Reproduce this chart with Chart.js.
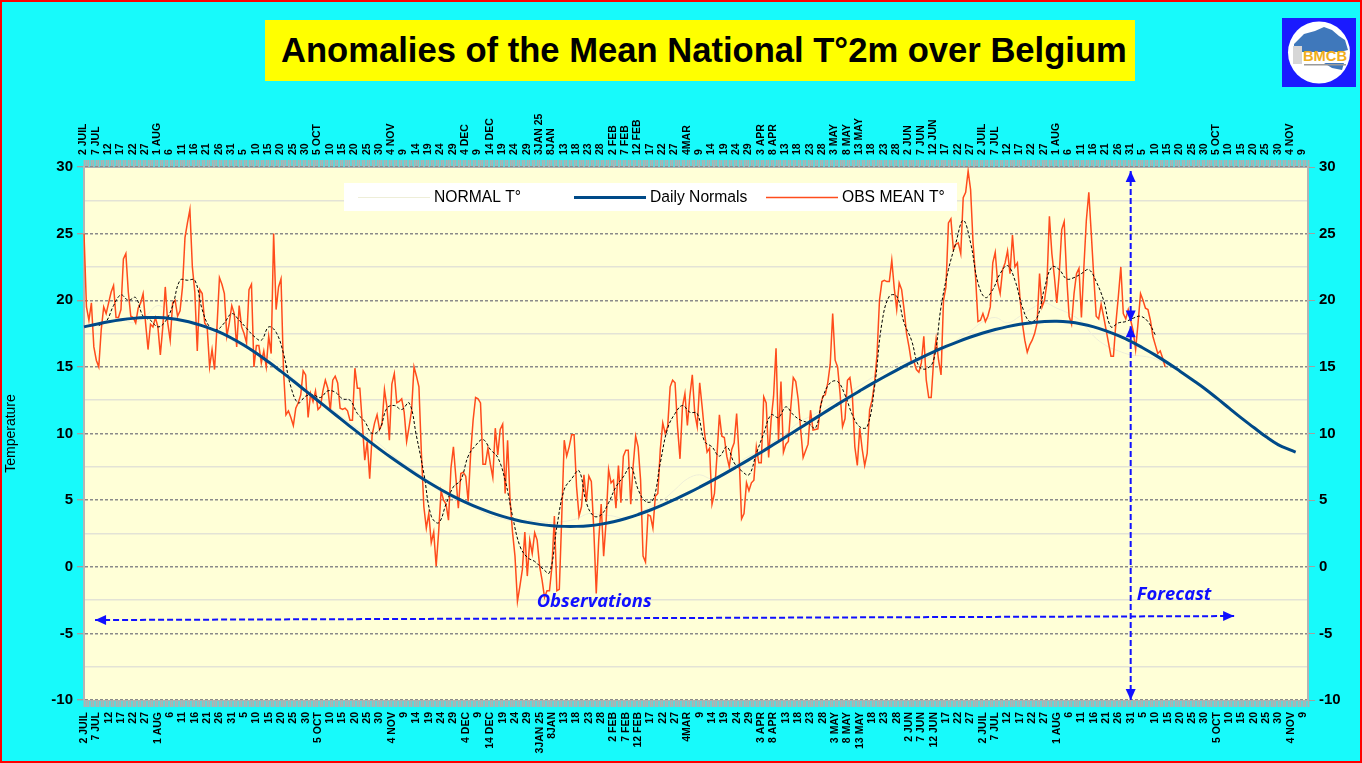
<!DOCTYPE html>
<html>
<head>
<meta charset="utf-8">
<script src="https://cdn.jsdelivr.net/npm/chart.js@4/dist/chart.umd.js"></script>
<style>
html,body{margin:0;padding:0;background:#17fafb;width:1362px;height:763px;overflow:hidden;font-family:"Liberation Sans",Arial,sans-serif}
#wrap{position:relative;width:1362px;height:763px}
#frame{position:absolute;left:0;top:0;width:1362px;height:763px;box-sizing:border-box;border:2px solid #ff0000;pointer-events:none}
#title{position:absolute;left:265px;top:20px;width:870px;height:61px;background:#ffff00;color:#000;font-weight:bold;font-size:34.6px;line-height:61px;padding-left:16px;box-sizing:border-box;white-space:nowrap}
#logo{position:absolute;left:1282px;top:18px;width:74px;height:69px}
canvas{position:absolute;left:0;top:0}
</style>
</head>
<body>
<div id="wrap">
<canvas id="c" width="1362" height="763"></canvas>
<div id="title">Anomalies of the Mean National T°2m over Belgium</div>
<svg id="logo" viewBox="0 0 74 69" xmlns="http://www.w3.org/2000/svg">
<rect width="74" height="69" fill="#1a1aff"/>
<circle cx="37" cy="34.5" r="31" fill="#fff"/>
<path d="M12 26 L22 16 L33 13 L42 9 L50 12 L57 18 L63 22 L66 32 L58 34 L12 34 Z" fill="#3f78bb"/>
<path d="M42 45 L62 45 L60 52 L50 50 Z" fill="#3f78bb"/>
<rect x="11" y="28" width="9" height="18" fill="#d6d6d6"/>
<text x="21" y="43" font-family="Liberation Sans" font-weight="bold" font-size="15.5" textLength="44" lengthAdjust="spacingAndGlyphs" fill="#f0ae1c">BMCB</text>
<rect x="22" y="46" width="42" height="1.5" fill="#9a9a9a"/>
</svg>
<div id="frame"></div>
</div>
<script>
// Tick labels, one every 5 days from 2 JUIL
const tickLabels = ["2 JUIL","7 JUL","12","17","22","27","1 AUG","6","11","16","21","26","31","5","10","15","20","25","30","5 OCT","10","15","20","25","30","4 NOV","9","14","19","24","29","4 DEC","9","14 DEC","19","24","29","3JAN 25","8JAN","13","18","23","28","2 FEB","7 FEB","12 FEB","17","22","27","4MAR","9","14","19","24","29","3 APR","8 APR","13","18","23","28","3 MAY","8 MAY","13 MAY","18","23","28","2 JUN","7 JUN","12 JUN","17","22","27","2 JUIL","7 JUL","12","17","22","27","1 AUG","6","11","16","21","26","31","5","10","15","20","25","30","5 OCT","10","15","20","25","30","4 NOV","9"];
const dayCount = 498;
const labelEvery = 5;
const forecastDay = 425;

// OBS MEAN T° : one reading per day
const obsMean = [25,19.5,18.5,19.8,16.5,15.5,15,17.8,19.5,19,19.8,20.6,21.1,18.7,18.7,19.3,23.1,23.5,20.6,18.8,18.7,18.3,19.4,19.8,20.5,18.3,16.3,18.2,18,18.7,18,15.9,18,21,18.3,17,19.8,20,18.8,19.2,21,24.7,25.8,26.8,22.5,20.6,16.2,20.8,20.5,18.3,18,15,16.3,14.8,18,21.7,21.2,20.5,17.3,18.3,19.6,19,16.5,19.6,18,17.5,16.8,20.8,21.2,15,16.6,16.6,15.3,16.2,15,17.3,16,25,19.3,21,21.6,14.8,11.4,11.7,11.2,10.6,11.9,12.3,12.9,14.7,14.4,11.2,13,12.4,13.2,11.8,12,13.2,14,13.4,11.7,14,14.3,13.8,11.9,11.8,11.9,11.7,11,11,14.9,13.4,13.4,10.8,8,9.4,6.6,9.9,10.8,11.4,10.3,10.7,13.3,12,9.5,13.7,14.5,12.3,12.4,12.6,11.6,9.4,10.5,11.7,15,14.3,13.5,8.5,4.5,2.9,4,1.8,2.6,0.05,2.6,5.7,5,4.7,3.5,7.4,9,6.7,4.4,7,7.1,6.8,4.9,8.5,11,12.7,12.6,12.3,7.7,7.7,8.9,7.7,6.7,10.4,8.4,10.3,10.7,5.5,9.5,5,2.6,0.8,-2.6,-1.45,-0.2,2.6,-0.7,2,1,2.55,2,0.05,-1,-2.3,-1.8,-1.8,0,3.8,-1.8,-1.7,3.8,9.5,8.3,9,9.9,9.9,6,3.8,4.5,6.9,4.9,6.8,6.4,2.8,-2,2,4.7,0.8,3.4,7.3,6.3,6.5,4.4,7.6,4.8,8.3,8.75,8.75,4.7,7.6,9.8,9,6.5,0.8,0.35,3.9,3.8,2.9,5.3,5.5,8.8,10.8,10,10.5,13.5,14,13.8,10.5,8.1,12,13,10.6,12.8,14.4,11.5,10.5,13.8,12,10,8.6,8.9,4.7,5.5,8.3,11.4,9.8,9.7,8.3,7.5,8.8,9.3,11.5,8.3,3.6,4,6.3,5.7,6.3,6.5,9,7.8,7.8,12.75,12.3,8.2,11,12.8,16.4,9.5,13.9,8.6,9.2,9.4,12,14.2,13.9,12.55,10.3,8.2,8.7,9.2,11.75,10.25,10.3,10.35,12,12.8,12.9,13.8,15.2,19,15.5,15,13,10.5,11.1,14,14.2,12.8,9,7.6,10.4,8.8,7.6,8.5,11.8,12.5,13.8,15.9,20,21.4,21.5,21.4,21.4,23,20.9,19.3,21.3,20.8,19.3,17.5,16.5,15.3,15.4,14.8,14.6,15.3,17.3,14,12.7,12.7,15.5,17.1,15.5,14.4,20,21,25.8,26.1,23.8,24.2,24.3,23.5,27.7,28.1,29.7,28.3,24.3,21.8,18.4,18.5,19,18.4,18.8,19.5,22.8,23.6,21.3,20.5,22.3,22.8,23.7,22,24.9,22.5,22.8,20.3,18.3,17,16.1,16.65,17,17.5,18.3,22,19.5,20,21.3,26.3,23.5,21.8,19.8,22,25.3,25.9,21.8,18.8,18.2,20.5,22,22.4,18.7,22.5,26,28.1,25,21.8,18.8,18.6,19.7,18.8,17.8,16.8,15.8,15.8,18.3,20.3,22.5,19,18.6,19.3,18.5,17.7,16.3,18.3,20.5,20,19.4,19.3,18.5,17.3,16.65,16,16.2,15.65,15];

// Black dashed running mean, read every 3 days from day 6
const meanStep = 3;
const meanStart = 6;
const runningMean = [18.1,18.4,19.6,20.4,20,20.2,18.8,18.5,18,18.4,19.6,21.5,21.5,21.5,19.3,18,17.8,18.3,19,18.5,17.9,17.3,17,18,17.6,16,13.5,12.3,12.8,12.9,12.7,13.2,13.1,12.6,12.5,11.5,10.9,10,10.3,11.9,12.1,11.8,12.3,9.8,7,3.8,3.3,4.7,6,6.5,8.3,9.1,9.55,8.8,8.2,6.5,3.8,1.55,0.7,0.4,-0.1,-0.45,3,5.8,6.6,7.2,4.8,3.8,3.9,4.8,6,6.75,7.5,5.8,4.9,5,7.8,10.4,11.5,12.1,11.6,11.5,9.4,9,8.3,9,7.8,7.2,6.9,8.5,10,11.4,11.2,12,11.4,11,10.8,10.4,12.7,13.8,13.9,12.9,11.4,10.5,10.5,13.5,18.3,20.3,20.3,18.3,17,15.05,14.85,15.5,19.5,22.3,24.3,26,24.3,21.3,20.2,20.8,22,22.6,21.5,19.5,18.4,18.7,20.9,22.5,22.3,21.6,21.7,22,22.3,21.4,20,18,18.3,18.4,18.65,18.8,18.4,17.4];

// Daily Normals, read every 5 days, plus the last day of the line
const normalStep = 5;
const dailyNormals = [18,18.2,18.38,18.53,18.64,18.7,18.7,18.63,18.48,18.26,17.97,17.6,17.15,16.62,16.02,15.36,14.66,13.94,13.2,12.46,11.72,10.98,10.25,9.53,8.83,8.16,7.52,6.9,6.32,5.78,5.28,4.83,4.43,4.08,3.78,3.53,3.33,3.18,3.08,3.03,3.03,3.08,3.2,3.38,3.62,3.92,4.26,4.64,5.06,5.5,5.97,6.46,6.97,7.5,8.04,8.6,9.17,9.75,10.33,10.92,11.5,12.08,12.65,13.2,13.74,14.26,14.76,15.24,15.7,16.13,16.53,16.9,17.24,17.54,17.8,18.02,18.2,18.32,18.4,18.42,18.36,18.22,18,17.7,17.34,16.92,16.42,15.88,15.3,14.68,14.04,13.38,12.65,11.9,11.15,10.45,9.75,9.15,8.75];
const lastNormalDay = 492;
const lastNormal = 8.6;

// NORMAL T° (the pale line), read every 5 days
const normalT = [18,18.2,18.4,18.6,18.3,18.8,19.6,19,18.5,18.3,18,17.7,17,16.5,16.1,15.7,15,14.1,13.3,12.5,11.9,11.2,10.5,9.9,9.2,8.4,7.7,7.1,6.3,5.6,5.1,4.8,4.3,3.8,3.6,3.4,3.5,3.4,3.3,3.4,3.6,4,3.9,3.8,3.6,4,4.5,5,5.8,6.6,6.9,6.6,7,7.7,8.3,8.7,9.4,10,10.8,11.3,11.8,12.4,13,13.6,14.2,14.7,15.2,15.4,15.5,15.9,16.4,17.1,17.7,18.4,18.7,18.3,18.8,19.4,19.8,19.4,19,18.4,17.3,16.6,16.2,15.9,15.8,15.6,15.1];

// Y axis
const yMin = -10, yMax = 30, yStep = 2.5, yLabelStep = 5;

// Annotation anchors, in axis units
const arrowObsStart = -4.0, arrowFcstEnd = -3.7;
const splitTopValue = 18.4, splitBottomValue = 18.05;

const dayIndex = Array.from({length: dayCount}, (_, i) => i);
const atStep = (arr, start, step) => arr.map((v, i) => ({x: start + i * step, y: v}));

const BLUE = '#1010ff';
function arrowHead(ctx, x, y, ang, len, half) {
  ctx.save();
  ctx.translate(x, y); ctx.rotate(ang);
  ctx.beginPath(); ctx.moveTo(0, 0); ctx.lineTo(-len, half); ctx.lineTo(-len, -half); ctx.closePath();
  ctx.fillStyle = BLUE; ctx.fill();
  ctx.restore();
}
function dashedArrow(ctx, x1, y1, x2, y2) {
  const ang = Math.atan2(y2 - y1, x2 - x1);
  ctx.save();
  ctx.strokeStyle = BLUE; ctx.lineWidth = 2; ctx.setLineDash([6, 3]);
  ctx.beginPath(); ctx.moveTo(x1, y1); ctx.lineTo(x2, y2); ctx.stroke();
  ctx.restore();
  arrowHead(ctx, x2, y2, ang, 11, 5);
  arrowHead(ctx, x1, y1, ang + Math.PI, 11, 5);
}

const overlay = {
  id: 'overlay',
  beforeDraw(chart) {
    const a = chart.chartArea, ctx = chart.ctx;
    ctx.save(); ctx.fillStyle = '#ffffd7';
    ctx.fillRect(a.left, a.top, a.right - a.left, a.bottom - a.top);
    ctx.restore();
  },
  afterDatasetsDraw(chart) {
    const ctx = chart.ctx, X = chart.scales.x, Y = chart.scales.y;
    // legend
    ctx.save();
    ctx.fillStyle = '#ffffff'; ctx.fillRect(344, 183, 613, 28);
    const starts = [358, 574, 766];
    ['NORMAL T°', 'Daily Normals', 'OBS MEAN T°'].forEach((name, i) => {
      const ds = chart.data.datasets.find(d => d.label === name);
      ctx.strokeStyle = ds.borderColor; ctx.lineWidth = ds.borderWidth;
      ctx.beginPath(); ctx.moveTo(starts[i], 197.5); ctx.lineTo(starts[i] + 72, 197.5); ctx.stroke();
      ctx.fillStyle = '#000'; ctx.font = '15.65px "Liberation Sans"';
      ctx.textBaseline = 'middle'; ctx.textAlign = 'left';
      ctx.fillText(name, starts[i] + 76, 198);
    });
    ctx.restore();
    // forecast markers
    const fx = X.getPixelForValue(forecastDay);
    dashedArrow(ctx, fx, Y.getPixelForValue(29.7), fx, Y.getPixelForValue(splitTopValue));
    dashedArrow(ctx, fx, Y.getPixelForValue(yMin), fx, Y.getPixelForValue(splitBottomValue));
    dashedArrow(ctx, X.getPixelForValue(4.5), Y.getPixelForValue(arrowObsStart), X.getPixelForValue(467), Y.getPixelForValue(arrowFcstEnd));
    ctx.save();
    ctx.fillStyle = BLUE; ctx.font = 'italic bold 18.4px "Open Sans"';
    ctx.textBaseline = 'middle'; ctx.textAlign = 'left';
    ctx.fillText('Observations', X.getPixelForValue(183.8), Y.getPixelForValue(-2.6));
    ctx.fillText('Forecast', X.getPixelForValue(427.5), Y.getPixelForValue(-2.1));
    ctx.restore();
  }
};

const labelFont = {family: '"Liberation Sans"', size: 10.5, weight: 'bold'};
const labelFor = (v, i) => (i % labelEvery === 0 && tickLabels[i / labelEvery] !== undefined) ? tickLabels[i / labelEvery] : '';
const xTicks = {autoSkip: false, maxRotation: 90, minRotation: 90, padding: 5, color: '#000', font: labelFont, callback: labelFor};
const xTicksTop = {autoSkip: false, maxRotation: 90, minRotation: 90, padding: 5, labelOffset: 12, color: '#000', font: labelFont, callback: labelFor};
const xGrid = {drawOnChartArea: false, drawTicks: true, tickLength: 7, tickColor: '#b0b0b0', tickWidth: 2};
const isMajor = c => c.tick && (c.tick.value % yLabelStep === 0);
const yTicks = {
  stepSize: yStep, padding: 4, color: '#000', autoSkip: false, maxTicksLimit: 100,
  font: {family: '"Liberation Sans"', size: 15, weight: 'bold'},
  callback: v => v % yLabelStep === 0 ? String(v) : ''
};

new Chart(document.getElementById('c'), {
  type: 'line',
  plugins: [overlay],
  data: {
    labels: dayIndex,
    datasets: [
      {label: 'NORMAL T°', data: atStep(normalT, 0, normalStep), borderColor: '#eeeed8', borderWidth: 1, tension: 0.4, pointRadius: 0, order: 4},
      {label: 'Daily Normals', data: [...atStep(dailyNormals, 0, normalStep), {x: lastNormalDay, y: lastNormal}], borderColor: '#004a88', borderWidth: 3, tension: 0.4, pointRadius: 0, order: 1},
      {label: 'OBS MEAN T°', data: atStep(obsMean, 0, 1), borderColor: '#ff4c1c', borderWidth: 1.5, tension: 0, pointRadius: 0, order: 3},
      {label: 'Running mean', data: atStep(runningMean, meanStart, meanStep), borderColor: '#000000', borderWidth: 1, borderDash: [3, 2], tension: 0.4, pointRadius: 0, order: 2}
    ]
  },
  options: {
    responsive: false, animation: false, devicePixelRatio: 1,
    layout: {padding: 0},
    plugins: {legend: {display: false}, title: {display: false}, tooltip: {enabled: false}},
    events: [],
    scales: {
      x: {type: 'category', position: 'bottom', offset: false, ticks: xTicks, grid: xGrid, border: {color: '#b0b0b0', width: 1},
          afterFit: s => { s.height = 63; }},
      x2: {type: 'category', position: 'top', labels: dayIndex, offset: false, ticks: xTicksTop, grid: xGrid, border: {color: '#b0b0b0', width: 1},
          afterFit: s => { s.height = 167; }},
      y: {position: 'left', min: yMin, max: yMax, ticks: yTicks,
          title: {display: true, text: 'Temperature', color: '#000', font: {family: '"Liberation Sans"', size: 14}, padding: {top: 3, bottom: 0}},
          grid: {drawTicks: true, tickLength: 7, lineWidth: 1.4,
                 color: c => isMajor(c) ? '#8a8a8a' : '#e3e3d6',
                 tickColor: c => isMajor(c) ? '#a0a0a0' : 'rgba(0,0,0,0)'},
          border: {color: '#b4b4b4', width: 2, dash: c => isMajor(c) ? [3, 2] : []},
          afterFit: s => { s.width = 84; }},
      y2: {position: 'right', min: yMin, max: yMax, ticks: yTicks,
          grid: {drawOnChartArea: false, drawTicks: true, tickLength: 7,
                 tickColor: c => isMajor(c) ? '#a0a0a0' : 'rgba(0,0,0,0)'},
          border: {color: '#b4b4b4', width: 2},
          afterFit: s => { s.width = 54; }}
    }
  }
});
</script>
</body>
</html>
